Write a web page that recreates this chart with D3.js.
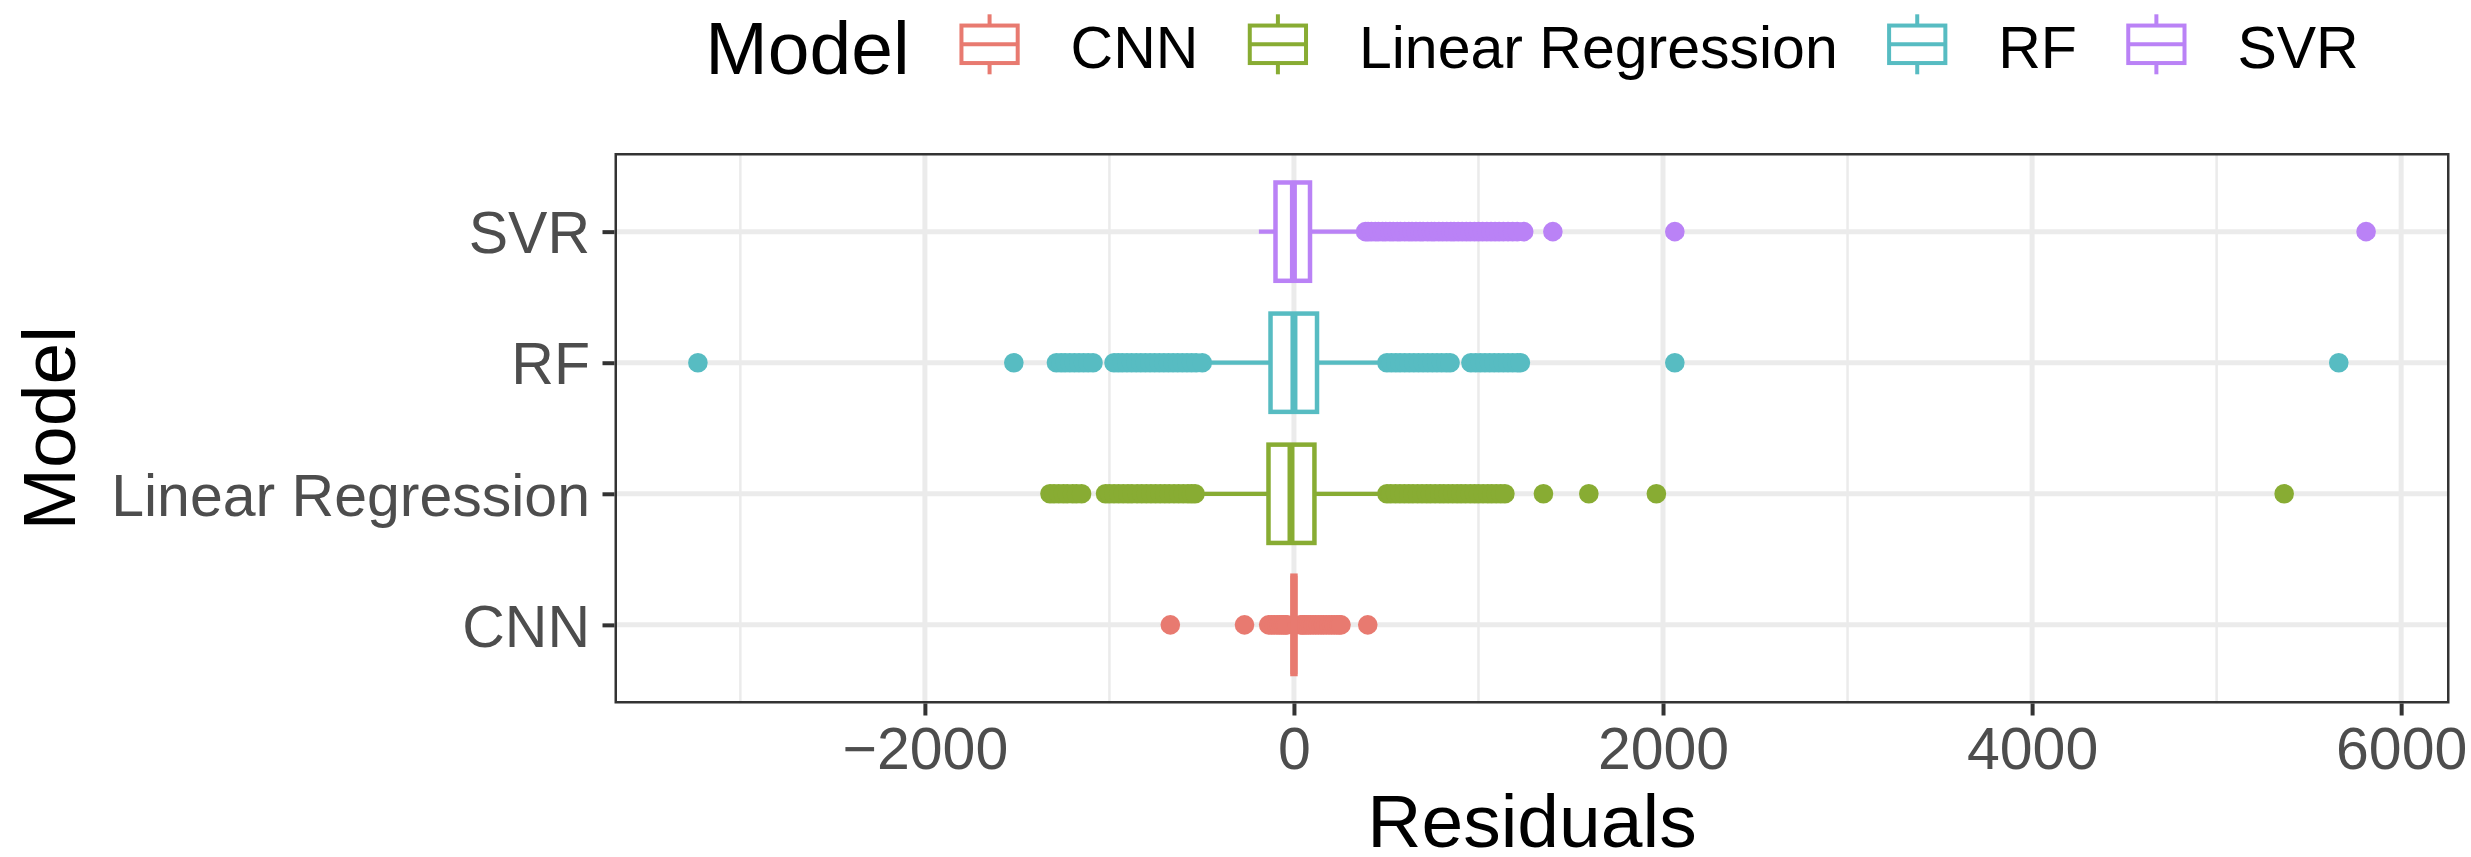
<!DOCTYPE html>
<html>
<head>
<meta charset="utf-8">
<script src="https://cdn.jsdelivr.net/npm/d3@7"></script>
<style>
  html, body { margin: 0; padding: 0; background: #fff; }
  svg { display: block; font-family: 'Liberation Sans', Arial, Helvetica, sans-serif; }
</style>
</head>
<body>
<script>
// Models, bottom to top as they appear on the y axis
const models = ['CNN', 'Linear Regression', 'RF', 'SVR']
const colors = ['#E87A70', '#88AC33', '#57BCC2', '#BA82F6']

// Box statistics (residuals)
const q1 = [-8, -138, -127, -100]
const medians = [0, -16, 0, -3]
const q3 = [8, 111, 125, 87]
const whiskerLow = [-35, -500, -460, -190]
const whiskerHigh = [32, 470, 470, 340]

// Outliers (dense runs read as closely spaced points)
const cnnOutliers = [-670, -268, -137, -122, -106, -92, -80, -68, -57, -46, -38,
  36, 45, 55, 66, 78, 90, 104, 118, 132, 147, 160, 175, 190, 204, 218, 232, 245, 255, 400]
const lrOutliers = [-1322, -1300, -1275, -1250, -1228, -1200, -1178, -1151,
  -1021, -1000, -975, -950, -925, -900, -878, -850, -825, -800, -775, -750, -725,
  -700, -676, -650, -625, -600, -575, -555, -536,
  504, 525, 550, 574, 598, 622, 645, 670, 694, 718, 740, 765, 790, 812, 836, 860,
  884, 906, 930, 955, 978, 1000, 1025, 1050, 1072, 1096, 1120, 1143,
  1352, 1598, 1964, 5366]
const rfOutliers = [-3230, -1518, -1287, -1262, -1240, -1215, -1190, -1165, -1140, -1115, -1089,
  -975, -952, -930, -905, -880, -855, -830, -805, -780, -755, -730, -705, -680,
  -655, -630, -605, -580, -555, -530, -497,
  504, 528, 552, 575, 600, 625, 650, 675, 700, 725, 750, 775, 800, 825, 846,
  959, 985, 1010, 1035, 1060, 1085, 1110, 1135, 1160, 1185, 1210, 1227,
  2064, 5662]
const svrOutliers = [388, 402, 420, 441, 458, 480, 497, 520, 538, 560, 577, 600, 622, 640,
  661, 683, 700, 724, 745, 762, 785, 806, 828, 850, 868, 890, 912, 934, 955, 978,
  1000, 1022, 1045, 1068, 1090, 1112, 1135, 1160, 1185, 1210, 1245,
  1403, 2064, 5810]
const outliers = [cnnOutliers, lrOutliers, rfOutliers, svrOutliers]

const xTicks = [-2000, 0, 2000, 4000, 6000]
const xMinorTicks = [-3000, -1000, 1000, 3000, 5000]

const width = 2471,
  height = 857
const panel = { left: 614.5, right: 2449.5, top: 153, bottom: 703.5 }
const gridColor = '#EBEBEB'
const axisColor = '#333333'
const textGrey = '#4D4D4D'

const svg = d3
  .select('body')
  .append('svg')
  .attr('width', width)
  .attr('height', height)

svg.append('rect').attr('width', width).attr('height', height).attr('fill', '#fff')

// Scales: x gets ggplot's 5% expansion, y the discrete 0.6 padding
const [lo, hi] = d3.extent(outliers.flat().concat(whiskerLow, whiskerHigh))
const pad = (hi - lo) * 0.05
const x = d3
  .scaleLinear()
  .domain([lo - pad, hi + pad])
  .range([panel.left, panel.right])
const y = d3
  .scalePoint()
  .domain(models.slice().reverse())
  .range([panel.top, panel.bottom])
  .padding(0.6)

svg
  .append('clipPath')
  .attr('id', 'panel-clip')
  .append('rect')
  .attr('x', panel.left)
  .attr('y', panel.top)
  .attr('width', panel.right - panel.left)
  .attr('height', panel.bottom - panel.top)

const plot = svg.append('g').attr('clip-path', 'url(#panel-clip)')

// Grid
plot
  .selectAll('line.minor')
  .data(xMinorTicks)
  .join('line')
  .attr('class', 'minor')
  .attr('x1', (d) => x(d))
  .attr('x2', (d) => x(d))
  .attr('y1', panel.top)
  .attr('y2', panel.bottom)
  .attr('stroke', gridColor)
  .attr('stroke-width', 2.5)

plot
  .selectAll('line.major-x')
  .data(xTicks)
  .join('line')
  .attr('class', 'major-x')
  .attr('x1', (d) => x(d))
  .attr('x2', (d) => x(d))
  .attr('y1', panel.top)
  .attr('y2', panel.bottom)
  .attr('stroke', gridColor)
  .attr('stroke-width', 5)

plot
  .selectAll('line.major-y')
  .data(models)
  .join('line')
  .attr('class', 'major-y')
  .attr('x1', panel.left)
  .attr('x2', panel.right)
  .attr('y1', (d) => y(d))
  .attr('y2', (d) => y(d))
  .attr('stroke', gridColor)
  .attr('stroke-width', 5)

// Boxplots: outliers first, then whiskers, then the box
const boxH = y.step() * 0.75
models.forEach((m, i) => {
  const g = plot.append('g')
  const cy = y(m)
  const c = colors[i]

  g.selectAll('circle')
    .data(outliers[i])
    .join('circle')
    .attr('cx', (d) => x(d))
    .attr('cy', cy)
    .attr('r', 9.8)
    .attr('fill', c)

  g.selectAll('line.whisker')
    .data([
      [whiskerLow[i], q1[i]],
      [q3[i], whiskerHigh[i]],
    ])
    .join('line')
    .attr('class', 'whisker')
    .attr('x1', (d) => x(d[0]))
    .attr('x2', (d) => x(d[1]))
    .attr('y1', cy)
    .attr('y2', cy)
    .attr('stroke', c)
    .attr('stroke-width', 4.2)

  g.append('rect')
    .attr('x', x(q1[i]))
    .attr('width', x(q3[i]) - x(q1[i]))
    .attr('y', cy - boxH / 2)
    .attr('height', boxH)
    .attr('fill', '#fff')
    .attr('stroke', c)
    .attr('stroke-width', 4.5)

  g.append('line')
    .attr('x1', x(medians[i]))
    .attr('x2', x(medians[i]))
    .attr('y1', cy - boxH / 2)
    .attr('y2', cy + boxH / 2)
    .attr('stroke', c)
    .attr('stroke-width', 7)
})

// Panel border (half of it falls outside the clip in ggplot)
svg
  .append('rect')
  .attr('x', panel.left + 1.25)
  .attr('y', panel.top + 1.25)
  .attr('width', panel.right - panel.left - 2.5)
  .attr('height', panel.bottom - panel.top - 2.5)
  .attr('fill', 'none')
  .attr('stroke', axisColor)
  .attr('stroke-width', 2.5)

// Axes
const xAxis = svg
  .append('g')
  .attr('transform', `translate(0,${panel.bottom})`)
  .call(
    d3
      .axisBottom(x)
      .tickValues(xTicks)
      .tickFormat(d3.format('d'))
      .tickSize(12)
      .tickPadding(11.5)
  )
const yAxis = svg
  .append('g')
  .attr('transform', `translate(${panel.left},0)`)
  .call(d3.axisLeft(y).tickSize(12).tickPadding(12.5))

for (const ax of [xAxis, yAxis]) {
  ax.select('.domain').remove()
  ax.selectAll('.tick line').attr('stroke', axisColor).attr('stroke-width', 4)
  ax.selectAll('.tick text')
    .attr('fill', textGrey)
    .style('font-size', '59px')
    .style('font-family', "'Liberation Sans', Arial, Helvetica, sans-serif")
}
yAxis.selectAll('.tick text').attr('dy', '0.36em')

// Axis titles
svg
  .append('text')
  .attr('x', (panel.left + panel.right) / 2)
  .attr('y', 847)
  .attr('text-anchor', 'middle')
  .style('font-size', '75px')
  .attr('fill', '#000')
  .text('Residuals')

svg
  .append('text')
  .attr('transform', `translate(75,${(panel.top + panel.bottom) / 2}) rotate(-90)`)
  .attr('text-anchor', 'middle')
  .style('font-size', '75px')
  .attr('fill', '#000')
  .text('Model')

// Legend across the top, centred on the panel
const keySize = 75
const keyMid = 44.3
const legend = svg.append('g')
const title = legend
  .append('text')
  .attr('x', 0)
  .attr('y', 74)
  .style('font-size', '75px')
  .attr('fill', '#000')
  .text('Model')

let cursor = title.node().getComputedTextLength() + 42.5
models.forEach((m, i) => {
  const c = colors[i]
  const k = legend.append('g').attr('transform', `translate(${cursor},${keyMid - keySize / 2})`)
  k.append('line')
    .attr('x1', keySize / 2).attr('x2', keySize / 2)
    .attr('y1', keySize * 0.1).attr('y2', keySize * 0.25)
    .attr('stroke', c).attr('stroke-width', 4)
  k.append('line')
    .attr('x1', keySize / 2).attr('x2', keySize / 2)
    .attr('y1', keySize * 0.75).attr('y2', keySize * 0.9)
    .attr('stroke', c).attr('stroke-width', 4)
  k.append('rect')
    .attr('x', keySize * 0.125).attr('width', keySize * 0.75)
    .attr('y', keySize * 0.25).attr('height', keySize * 0.5)
    .attr('fill', '#fff').attr('stroke', c).attr('stroke-width', 4)
  k.append('line')
    .attr('x1', keySize * 0.125).attr('x2', keySize * 0.875)
    .attr('y1', keySize / 2).attr('y2', keySize / 2)
    .attr('stroke', c).attr('stroke-width', 4)
  cursor += keySize + 43.5
  const label = legend
    .append('text')
    .attr('x', cursor)
    .attr('y', 68.3)
    .style('font-size', '59px')
    .attr('fill', '#000')
    .text(m)
  cursor += label.node().getComputedTextLength()
  if (i < models.length - 1) cursor += 42
})
legend.attr('transform', `translate(${(panel.left + panel.right) / 2 - cursor / 2},0)`)
</script>
</body>
</html>
